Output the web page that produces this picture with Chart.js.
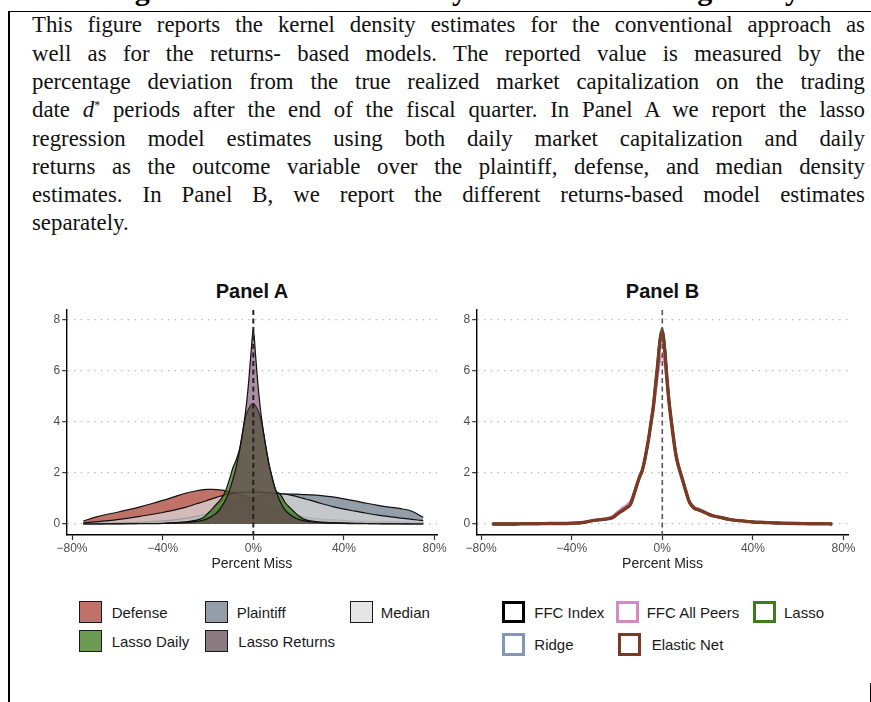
<!DOCTYPE html>
<html>
<head>
<meta charset="utf-8">
<script src="https://cdn.jsdelivr.net/npm/chart.js@4.4.1/dist/chart.umd.min.js"></script>
<style>
  html, body { margin: 0; padding: 0; background: #fff; }
  body { width: 871px; height: 702px; overflow: hidden; position: relative; font-family: "Liberation Sans", Arial, sans-serif; }
  #fig-head { position: absolute; left: 104px; top: -25px; font: bold 30px/30px "Liberation Serif", serif; letter-spacing: 2px; white-space: nowrap; color: #000; }
  .rule { position: absolute; background: #000; }
  #caption { position: absolute; left: 32px; top: 11.4px; width: 833px; font: 22.8px/28.3px "Liberation Serif", "Times New Roman", serif; color: #111; }
  #caption .ln { text-align: justify; text-align-last: justify; }
  #caption .ln.last { text-align: left; text-align-last: left; }
  #caption sup { font-size: 12px; line-height: 0; vertical-align: 8px; }
  .ptitle { position: absolute; top: 281px; transform: translateX(-50%); font: bold 20px/20px "Liberation Sans", Arial, sans-serif; color: #111; white-space: nowrap; }
  canvas { position: absolute; }
  .key { position: absolute; box-sizing: border-box; }
  .klabel { position: absolute; font: 15px/17px "Liberation Sans", Arial, sans-serif; color: #1a1a1a; white-space: nowrap; }
</style>
</head>
<body>
<div id="fig-head">Figure 4: Kernel Density Estimates Using Daily Data</div>
<div class="rule" style="left:8px; top:10.5px; width:863px; height:1.5px;"></div>
<div class="rule" style="left:7.5px; top:10.5px; width:2px; height:692px;"></div>
<div class="rule" style="left:869.5px; top:683px; width:1.5px; height:19px;"></div>

<div id="caption">
  <div class="ln">This figure reports the kernel density estimates for the conventional approach as</div>
  <div class="ln">well as for the returns- based models. The reported value is measured by the</div>
  <div class="ln">percentage deviation from the true realized market capitalization on the trading</div>
  <div class="ln">date <i>d</i><sup>*</sup> periods after the end of the fiscal quarter. In Panel A we report the lasso</div>
  <div class="ln">regression model estimates using both daily market capitalization and daily</div>
  <div class="ln">returns as the outcome variable over the plaintiff, defense, and median density</div>
  <div class="ln">estimates. In Panel B, we report the different returns-based model estimates</div>
  <div class="ln last">separately.</div>
</div>

<div class="ptitle" style="left:252px;">Panel A</div>
<div class="ptitle" style="left:662.5px;">Panel B</div>

<canvas id="panelA" width="450" height="310" style="left:0px; top:270px;"></canvas>
<canvas id="panelB" width="431" height="310" style="left:440px; top:270px;"></canvas>

<div id="legends"></div>

<script>
// Percent miss grid (x values shared by every density curve)
const percentMiss = [-75,-70,-65,-60,-55,-50,-45,-40,-35,-30,-25,-22,-20,-18,-16,-14,-12,
  -10,-9,-8,-7,-6,-5,-4,-3,-2,-1,0,1,2,3,4,5,6,7,8,9,10,
  12,14,16,18,20,22,25,30,35,40,45,50,55,60,65,70,75];

const xTicks = [-80, -40, 0, 40, 80];
const yTicks = [0, 2, 4, 6, 8];

// Panel A: conventional approach and lasso densities
const defense = [0.12,0.26,0.37,0.46,0.56,0.67,0.79,0.92,1.06,1.2,1.3,1.34,1.35,1.35,1.34,1.32,1.29,
  1.25,1.23,1.21,1.19,1.16,1.14,1.11,1.08,1.05,1.03,1.0,0.97,0.93,0.9,0.86,0.82,0.78,0.74,0.7,0.66,0.62,
  0.55,0.48,0.42,0.37,0.32,0.28,0.24,0.19,0.16,0.13,0.11,0.1,0.09,0.08,0.07,0.06,0.05];
const plaintiff = [0.02,0.03,0.03,0.04,0.05,0.07,0.09,0.12,0.16,0.22,0.3,0.36,0.41,0.47,0.53,0.59,0.66,
  0.73,0.76,0.8,0.83,0.87,0.9,0.93,0.96,0.99,1.01,1.03,1.05,1.07,1.08,1.1,1.11,1.12,1.13,1.14,1.15,1.16,
  1.17,1.17,1.17,1.17,1.16,1.15,1.14,1.11,1.06,0.98,0.9,0.81,0.73,0.66,0.6,0.5,0.26];
const median = [0.04,0.08,0.12,0.17,0.23,0.3,0.37,0.45,0.54,0.65,0.79,0.87,0.93,0.99,1.05,1.1,1.15,
  1.18,1.2,1.21,1.22,1.23,1.24,1.24,1.25,1.25,1.25,1.25,1.25,1.25,1.24,1.24,1.23,1.23,1.22,1.22,1.21,1.2,
  1.19,1.17,1.14,1.1,1.05,1.0,0.93,0.8,0.68,0.58,0.5,0.42,0.35,0.29,0.23,0.18,0.13];
const lassoDaily = [0,0,0.01,0.01,0.01,0.02,0.02,0.03,0.05,0.08,0.15,0.25,0.42,0.6,0.8,1.0,1.35,
  1.9,2.2,2.4,2.65,2.95,3.45,3.95,4.3,4.5,4.65,4.7,4.62,4.45,4.2,3.8,3.3,2.8,2.3,1.9,1.55,1.3,
  1.15,0.85,0.65,0.48,0.32,0.2,0.12,0.07,0.05,0.04,0.03,0.02,0.01,0.01,0.01,0,0];
const lassoReturns = [0,0,0,0,0.01,0.01,0.01,0.02,0.03,0.05,0.1,0.15,0.22,0.32,0.45,0.68,0.98,
  1.45,1.75,2.05,2.45,2.9,3.4,4.0,4.7,5.6,6.7,7.6,6.6,5.5,4.6,3.9,3.3,2.75,2.3,1.95,1.6,1.3,
  0.85,0.55,0.38,0.26,0.18,0.13,0.09,0.05,0.03,0.02,0.01,0.01,0.01,0,0,0,0];

// Panel B: returns-based model densities
const ffcIndex = [0,0,0,0.01,0.01,0.02,0.02,0.03,0.06,0.14,0.19,0.25,0.38,0.5,0.62,0.78,1.3,
  1.85,2.05,2.4,2.85,3.35,3.95,4.55,5.4,6.25,7.2,7.5,6.9,5.75,4.75,4.0,3.3,2.7,2.3,2.0,1.7,1.4,
  0.85,0.62,0.55,0.48,0.4,0.33,0.27,0.17,0.12,0.08,0.06,0.04,0.03,0.02,0.01,0.01,0];
const ffcAllPeers = [0,0,0,0.01,0.01,0.02,0.02,0.04,0.07,0.16,0.22,0.3,0.45,0.6,0.72,0.9,1.35,
  1.85,2.05,2.4,2.85,3.35,3.9,4.45,5.1,5.8,6.4,6.6,6.3,5.5,4.7,4.0,3.3,2.75,2.35,2.05,1.75,1.45,
  0.9,0.68,0.6,0.52,0.42,0.34,0.28,0.18,0.12,0.08,0.06,0.04,0.03,0.02,0.01,0.01,0];
const lasso = [0,0,0,0.01,0.01,0.02,0.02,0.03,0.06,0.14,0.19,0.25,0.38,0.5,0.62,0.78,1.3,
  1.85,2.05,2.4,2.85,3.35,3.95,4.6,5.45,6.35,7.3,7.65,7.0,5.8,4.75,4.0,3.3,2.7,2.3,2.0,1.7,1.4,
  0.85,0.62,0.55,0.48,0.4,0.33,0.27,0.17,0.12,0.08,0.06,0.04,0.03,0.02,0.01,0.01,0];
const ridge = [0,0,0,0.01,0.01,0.02,0.02,0.03,0.06,0.14,0.19,0.25,0.38,0.5,0.62,0.78,1.3,
  1.85,2.05,2.4,2.85,3.35,3.95,4.5,5.35,6.2,7.1,7.4,6.95,5.85,4.85,4.1,3.4,2.8,2.35,2.0,1.7,1.4,
  0.85,0.62,0.55,0.48,0.4,0.33,0.27,0.17,0.12,0.08,0.06,0.04,0.03,0.02,0.01,0.01,0];
const elasticNet = [0,0,0,0.01,0.01,0.02,0.02,0.03,0.06,0.14,0.19,0.25,0.38,0.5,0.62,0.78,1.3,
  1.85,2.05,2.4,2.85,3.35,3.95,4.55,5.4,6.25,7.15,7.5,6.85,5.75,4.75,4.0,3.3,2.7,2.3,2.0,1.7,1.4,
  0.85,0.62,0.55,0.48,0.4,0.33,0.27,0.17,0.12,0.08,0.06,0.04,0.03,0.02,0.01,0.01,0];

const FONT = '"Liberation Sans", Arial, sans-serif';

const seriesA = [
  { label: 'Defense',       data: defense,      fill: 'rgba(165,54,42,0.7)',   key: 'rgb(192,114,106)', order: 5 },
  { label: 'Plaintiff',     data: plaintiff,    fill: 'rgba(101,117,131,0.7)', key: 'rgb(147,158,168)', order: 4 },
  { label: 'Median',        data: median,       fill: 'rgba(218,218,218,0.7)', key: 'rgb(229,229,229)', order: 3 },
  { label: 'Lasso Daily',   data: lassoDaily,   fill: 'rgba(45,111,9,0.7)',    key: 'rgb(108,154,83)',  order: 2 },
  { label: 'Lasso Returns', data: lassoReturns, fill: 'rgba(102,50,84,0.55)',  key: 'rgb(139,122,127)', order: 1 }
];
const seriesB = [
  { label: 'FFC Index',     data: ffcIndex,    color: '#000000', width: 2.4, order: 4 },
  { label: 'FFC All Peers', data: ffcAllPeers, color: '#d48bc3', width: 2.4, order: 5 },
  { label: 'Lasso',         data: lasso,       color: '#3f7c1e', width: 2.4, order: 2 },
  { label: 'Ridge',         data: ridge,       color: '#8496b6', width: 2.4, order: 3 },
  { label: 'Elastic Net',   data: elasticNet,  color: '#7a3a24', width: 3.4, order: 1 }
];

function points(ys) { return ys.map((y, i) => ({ x: percentMiss[i], y })); }

// dashed reference line at 0% miss
const zeroLine = {
  id: 'zeroLine',
  afterDatasetsDraw(chart, args, opts) {
    const { ctx, chartArea, scales: { x } } = chart;
    const px = x.getPixelForValue(opts.value);
    ctx.save();
    ctx.strokeStyle = opts.color;
    ctx.lineWidth = opts.width;
    ctx.setLineDash(opts.dash);
    ctx.beginPath();
    ctx.moveTo(px, chartArea.top);
    ctx.lineTo(px, chartArea.bottom);
    ctx.stroke();
    ctx.restore();
  }
};

function scalesFor(xmin, xmax) {
  return {
    x: {
      type: 'linear', min: xmin, max: xmax,
      afterBuildTicks: s => { s.ticks = xTicks.map(v => ({ value: v })); },
      afterFit: s => { s.height = 38; },
      grid: { drawOnChartArea: false, drawTicks: true, tickLength: 5, tickColor: '#333', tickWidth: 1.2, color: '#333' },
      border: { display: true, color: '#000', width: 1.4 },
      ticks: {
        padding: 1, color: '#4d4d4d', font: { family: FONT, size: 12 }, maxRotation: 0, autoSkip: false,
        callback: v => (v < 0 ? '\u2212' : '') + Math.abs(v) + '%'
      },
      title: { display: true, text: 'Percent Miss', color: '#222', font: { family: FONT, size: 14 }, padding: { top: 0, bottom: 0 } }
    },
    y: {
      type: 'linear', min: -0.43, max: 8.36,
      afterBuildTicks: s => { s.ticks = yTicks.map(v => ({ value: v })); },
      afterFit: s => { s.width = 36; },
      grid: { drawOnChartArea: true, color: '#b5b5b5', lineWidth: 1.3, drawTicks: true, tickLength: 4.5, tickColor: '#333', tickWidth: 1.2, tickBorderDash: [] },
      border: { display: true, color: '#000', width: 1.4, dash: [1.3, 5.4] },
      ticks: { padding: 2, color: '#4d4d4d', font: { family: FONT, size: 12 }, callback: v => String(v) }
    }
  };
}

new Chart(document.getElementById('panelA'), {
  type: 'line',
  data: {
    datasets: seriesA.map(s => ({
      label: s.label, data: points(s.data), order: s.order,
      fill: 'origin', backgroundColor: s.fill,
      borderColor: '#111', borderWidth: 1.2
    }))
  },
  options: {
    responsive: false, animation: false, devicePixelRatio: 1,
    layout: { padding: { left: 30.7, right: 13, top: 40, bottom: 7 } },
    elements: { point: { radius: 0 }, line: { cubicInterpolationMode: 'monotone' } },
    plugins: { legend: { display: false }, tooltip: { enabled: false }, zeroLine: { value: 0, color: '#222', width: 2, dash: [5, 3.5] } },
    scales: scalesFor(-82.35, 81.07)
  },
  plugins: [zeroLine]
});

new Chart(document.getElementById('panelB'), {
  type: 'line',
  data: {
    datasets: seriesB.map(s => ({
      label: s.label, data: points(s.data), order: s.order,
      fill: false, borderColor: s.color, borderWidth: s.width
    }))
  },
  options: {
    responsive: false, animation: false, devicePixelRatio: 1,
    layout: { padding: { left: 0.7, right: 22.7, top: 40, bottom: 7 } },
    elements: { point: { radius: 0 }, line: { cubicInterpolationMode: 'monotone' } },
    plugins: { legend: { display: false }, tooltip: { enabled: false }, zeroLine: { value: 0, color: '#555', width: 1.6, dash: [5, 3.5] } },
    scales: scalesFor(-81.94, 82.12)
  },
  plugins: [zeroLine]
});

// legends
const legendA = [
  { i: 0, kx: 78.5, ky: 600.5, tx: 111.7 },
  { i: 1, kx: 205, ky: 600.5, tx: 236.7 },
  { i: 2, kx: 350, ky: 600.5, tx: 380.7 },
  { i: 3, kx: 78.5, ky: 629.5, tx: 111.7 },
  { i: 4, kx: 205, ky: 629.5, tx: 238.3 }
];
const legendB = [
  { i: 0, kx: 501.7, ky: 600.5, tx: 534.3 },
  { i: 1, kx: 616, ky: 600.5, tx: 646.7 },
  { i: 2, kx: 753.3, ky: 600.5, tx: 784 },
  { i: 3, kx: 501.7, ky: 633.3, tx: 534.3 },
  { i: 4, kx: 618.3, ky: 633.3, tx: 651.7 }
];
const host = document.getElementById('legends');
function addKey(x, y, style, label, tx) {
  const k = document.createElement('div');
  k.className = 'key';
  k.style.cssText = `left:${x}px;top:${y}px;width:23px;height:22.5px;` + style;
  host.appendChild(k);
  const t = document.createElement('div');
  t.className = 'klabel';
  t.textContent = label;
  t.style.left = tx + 'px';
  t.style.top = (y + 3) + 'px';
  host.appendChild(t);
}
legendA.forEach(e => {
  const s = seriesA[e.i];
  addKey(e.kx, e.ky, `background:${s.key};border:1.6px solid #1a1a1a;`, s.label, e.tx);
});
legendB.forEach(e => {
  const s = seriesB[e.i];
  addKey(e.kx, e.ky, `background:#fff;border:3px solid ${s.color};`, s.label, e.tx);
});
</script>
</body>
</html>
